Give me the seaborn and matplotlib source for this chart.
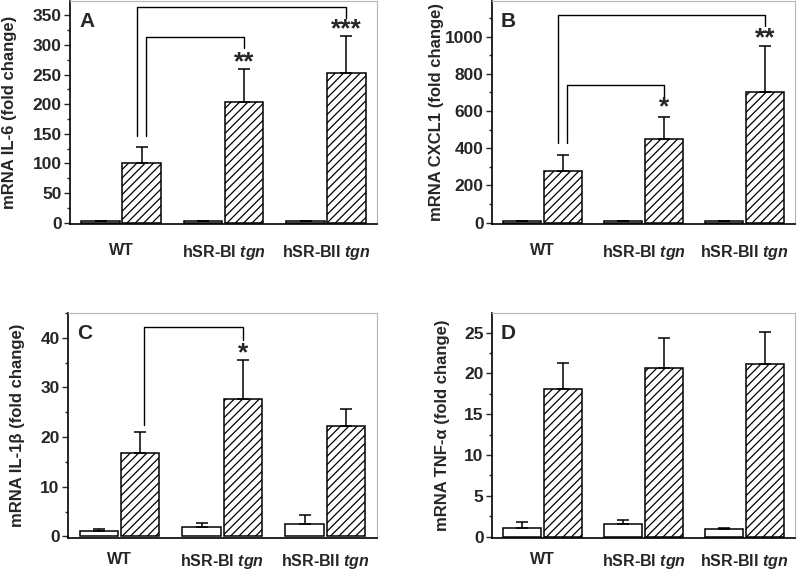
import numpy as np
import pandas as pd
import matplotlib
matplotlib.use('Agg')
import matplotlib.pyplot as plt
import seaborn as sns

sns.set_style('ticks')
plt.rcParams['font.family'] = ['Liberation Sans', 'DejaVu Sans']
plt.rcParams['font.weight'] = 'bold'
plt.rcParams['axes.labelweight'] = 'bold'
plt.rcParams['mathtext.fontset'] = 'custom'
plt.rcParams['mathtext.it'] = 'Liberation Sans:italic:bold'
plt.rcParams['mathtext.rm'] = 'Liberation Sans:bold'
plt.rcParams['hatch.linewidth'] = 0.9

# data
groups = ['WT', 'hSR-BI tgn', 'hSR-BII tgn']
group_labels = ['WT', 'hSR-BI $tgn$', 'hSR-BII $tgn$']
treatments = ['control', 'treated']

il6_ctrl = [3, 3, 3]
il6_ctrl_err = [0, 0, 0]
il6_trt = [100, 204, 253]
il6_trt_err = [27, 56, 62]

cxcl1_ctrl = [8, 8, 8]
cxcl1_ctrl_err = [0, 0, 0]
cxcl1_trt = [280, 450, 704]
cxcl1_trt_err = [85, 120, 244]

il1b_ctrl = [1.0, 1.8, 2.4]
il1b_ctrl_err = [0.5, 0.9, 2.0]
il1b_trt = [16.8, 27.6, 22.3]
il1b_trt_err = [4.2, 7.9, 3.4]

tnfa_ctrl = [1.1, 1.5, 0.9]
tnfa_ctrl_err = [0.7, 0.5, 0.2]
tnfa_trt = [18.1, 20.7, 21.1]
tnfa_trt_err = [3.2, 3.6, 4.0]

# brackets: (from group, to group, left leg bottom, top, right leg bottom, stars, star y)
il6_brackets = [(0, 1, 146, 313, 295, '**', 270), (0, 2, 146, 364, 345, '***', 326)]
cxcl1_brackets = [(0, 1, 430, 742, 677, '*', 622), (0, 2, 430, 1115, 1054, '**', 990)]
il1b_brackets = [(0, 1, 22.5, 42.2, 39.5, '*', 36.8)]
tnfa_brackets = []

panels = [
    ('A', 'mRNA IL-6 (fold change)', il6_ctrl, il6_ctrl_err, il6_trt, il6_trt_err,
     il6_brackets, (-2, 374), 50, 25),
    ('B', 'mRNA CXCL1 (fold change)', cxcl1_ctrl, cxcl1_ctrl_err, cxcl1_trt, cxcl1_trt_err,
     cxcl1_brackets, (-6, 1190), 200, 100),
    ('C', 'mRNA IL-1β (fold change)', il1b_ctrl, il1b_ctrl_err, il1b_trt, il1b_trt_err,
     il1b_brackets, (-0.3, 45), 10, 5),
    ('D', 'mRNA TNF-α (fold change)', tnfa_ctrl, tnfa_ctrl_err, tnfa_trt, tnfa_trt_err,
     tnfa_brackets, (-0.15, 27.4), 5, 2.5),
]

positions = [
    [0.0875, 0.608, 0.384, 0.39],
    [0.615, 0.608, 0.379, 0.39],
    [0.085, 0.058, 0.386, 0.394],
    [0.615, 0.058, 0.379, 0.394],
]
label_pads = [14, 14, 10, 10]
ylabel_x = [-0.173, -0.158, -0.139, -0.139]

fig = plt.figure(figsize=(8, 5.71), dpi=100)

for pos, lpad, lx, (letter, ylabel, ctrl, ctrl_err, trt, trt_err, brackets, ylim, major, minor) in zip(
        positions, label_pads, ylabel_x, panels):
    ax = fig.add_axes(pos)
    df = pd.DataFrame({
        'group': groups * 2,
        'treat': [treatments[0]] * 3 + [treatments[1]] * 3,
        'value': ctrl + trt,
    })
    sns.barplot(data=df, x='group', y='value', hue='treat', order=groups,
                hue_order=treatments, palette=['white', 'white'], edgecolor='black',
                linewidth=1.1, width=0.8, gap=0.06, errorbar=None, legend=False, ax=ax)

    # hatch the treated bars and add upper error bars
    for i, (cont, errs) in enumerate(zip(ax.containers, [ctrl_err, trt_err])):
        xs = [p.get_x() + p.get_width() / 2 for p in cont.patches]
        ys = [p.get_height() for p in cont.patches]
        if i == 1:
            for p in cont.patches:
                p.set_hatch('////')
        ax.errorbar(xs, ys, yerr=[np.zeros(len(errs)), errs], fmt='none',
                    ecolor='black', elinewidth=1.1, capsize=4, capthick=1.1, zorder=1)

    # significance brackets
    for g0, g1, yl, yt, yr, stars, sy in brackets:
        off_l = 0.24 if g1 == 1 else 0.15
        xl = g0 + off_l
        xr = g1 + 0.2
        ax.plot([xl, xl, xr, xr], [yl, yt, yt, yr], color='black', lw=1.0)
        ax.text(xr, sy, stars, ha='center', va='center', fontsize=19, fontweight='bold')

    ax.set_ylim(*ylim)
    ax.set_xlim(-0.5, 2.5)
    ax.yaxis.set_major_locator(matplotlib.ticker.MultipleLocator(major))
    ax.yaxis.set_minor_locator(matplotlib.ticker.MultipleLocator(minor))
    ax.set_xticks(range(3))
    ax.set_xticklabels(group_labels)
    ax.set_xlabel('')
    ax.set_ylabel(ylabel, fontsize=12)
    ax.yaxis.set_label_coords(lx, 0.5)
    ax.tick_params(axis='x', length=0, pad=lpad, labelsize=11.5)
    ax.tick_params(axis='y', which='major', length=4, width=1, labelsize=12.5, pad=2)
    ax.tick_params(axis='y', which='minor', length=2.5, width=1)
    for side in ['top', 'right']:
        ax.spines[side].set_color('#b5b5b5')
        ax.spines[side].set_linewidth(0.8)
    for side in ['bottom', 'left']:
        ax.spines[side].set_color('black')
        ax.spines[side].set_linewidth(1.2)
    ax.text(0.03, 0.95, letter, transform=ax.transAxes, ha='left', va='top',
            fontsize=15, fontweight='bold')

fig.savefig('out.png', dpi=100)
